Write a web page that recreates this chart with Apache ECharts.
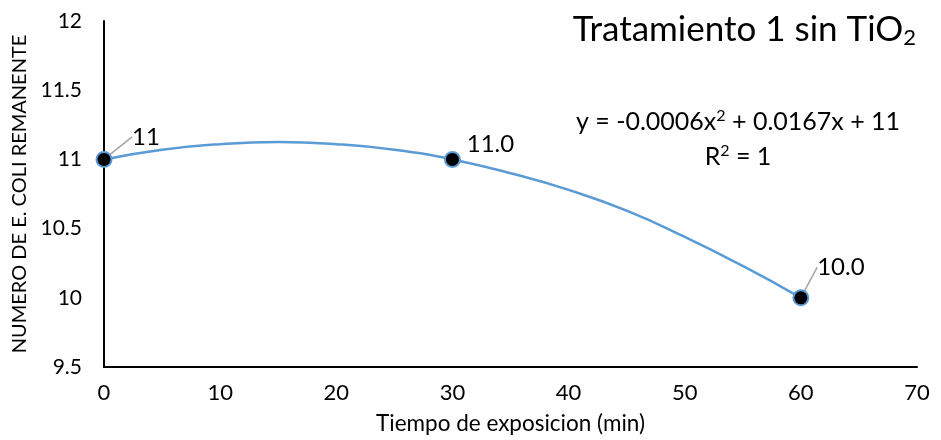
<!DOCTYPE html>
<html><head><meta charset="utf-8">
<script src="https://cdn.jsdelivr.net/npm/echarts@6/dist/echarts.min.js"></script>
<style>html,body{margin:0;padding:0;background:#fff}#c{width:941px;height:440px}</style>
</head><body><div id="c"></div>
<script>
// Measured points
var timeMin = [0, 30, 60];
var eColi = [11, 11.0, 10.0];
var pointLabels = ['11', '11.0', '10.0'];
// Trendline
var trendX = [0, 5, 10, 15, 20, 25, 30, 35, 40, 45, 50, 55, 60];
var trendY = [11, 11.07, 11.11, 11.125, 11.11, 11.07, 11.0, 10.9, 10.78, 10.63, 10.44, 10.23, 10.0];
var xTicks = [0, 10, 20, 30, 40, 50, 60, 70];
var yTicks = [9.5, 10, 10.5, 11, 11.5, 12];

var FONT = 'Lato';
var chart = echarts.init(document.getElementById('c'));
var labelOffsets = [[42, 3], [38, 10], [40, -5]];
var leader = [true, false, true];
chart.setOption({
  animation: false,
  textStyle: {fontFamily: FONT},
  title: [{
    text: '{a|Tratamiento 1 sin TiO}{s|2}',
    right: 20, top: 5,
    textStyle: {fontWeight: 'normal', rich: {
      a: {fontSize: 35, color: '#000', fontFamily: FONT, fontWeight: 'normal'},
      s: {fontSize: 22, color: '#000', fontFamily: FONT, fontWeight: 'normal', padding: [17, 0, 0, 0]}
    }}
  }, {
    text: '{a|y = -0.0006x}{p|2}{a| + 0.0167x + 11}\n{a|R}{p|2}{a| = 1}',
    left: 733, top: 99, textAlign: 'center',
    textStyle: {fontWeight: 'normal', rich: {
      a: {fontSize: 25, color: '#000', fontFamily: FONT, fontWeight: 'normal', lineHeight: 35, align: 'center'},
      p: {fontSize: 16, color: '#000', fontFamily: FONT, fontWeight: 'normal', padding: [0, 0, 12, 0], lineHeight: 35}
    }}
  }],
  grid: {left: 104, right: 24, top: 21, bottom: 71},
  xAxis: {
    type: 'value', min: xTicks[0], max: xTicks[xTicks.length - 1], interval: 10,
    name: 'Tiempo de exposicion (min)', nameLocation: 'middle', nameGap: 45,
    nameTextStyle: {fontSize: 22.5, color: '#000', fontFamily: FONT},
    axisLine: {show: true, lineStyle: {color: '#000', width: 2}},
    axisTick: {show: false},
    splitLine: {show: false},
    axisLabel: {fontSize: 22, color: '#000', margin: 15, fontFamily: FONT}
  },
  yAxis: {
    type: 'value', min: yTicks[0], max: yTicks[yTicks.length - 1], interval: 0.5,
    name: 'NUMERO DE E. COLI REMANENTE', nameLocation: 'middle', nameGap: 67,
    nameTextStyle: {fontSize: 20, color: '#000', fontFamily: FONT},
    axisLine: {show: true, lineStyle: {color: '#000', width: 2}},
    axisTick: {show: false},
    splitLine: {show: false},
    axisLabel: {fontSize: 21, color: '#000', margin: 22, fontFamily: FONT}
  },
  series: [{
    type: 'line', smooth: true, symbol: 'none',
    data: trendX.map(function (x, i) { return [x, trendY[i]]; }),
    lineStyle: {color: '#5B9BD5', width: 2.5}, z: 2
  }, {
    type: 'scatter', symbolSize: 15,
    itemStyle: {color: '#000', borderColor: '#5B9BD5', borderWidth: 2, opacity: 1},
    data: timeMin.map(function (x, i) {
      return {value: [x, eColi[i]], labelLine: {show: leader[i], lineStyle: {color: '#A6A6A6', width: 1.5}}};
    }),
    label: {
      show: true, position: 'top', fontSize: 24, color: '#000', opacity: 1, fontFamily: FONT,
      formatter: function (p) { return pointLabels[p.dataIndex]; }
    },
    labelLayout: function (p) {
      var o = labelOffsets[p.dataIndex];
      return {dx: o[0], dy: o[1]};
    },
    labelLine: {show: true, lineStyle: {color: '#A6A6A6', width: 1.5}},
    z: 3
  }]
});
</script></body></html>
